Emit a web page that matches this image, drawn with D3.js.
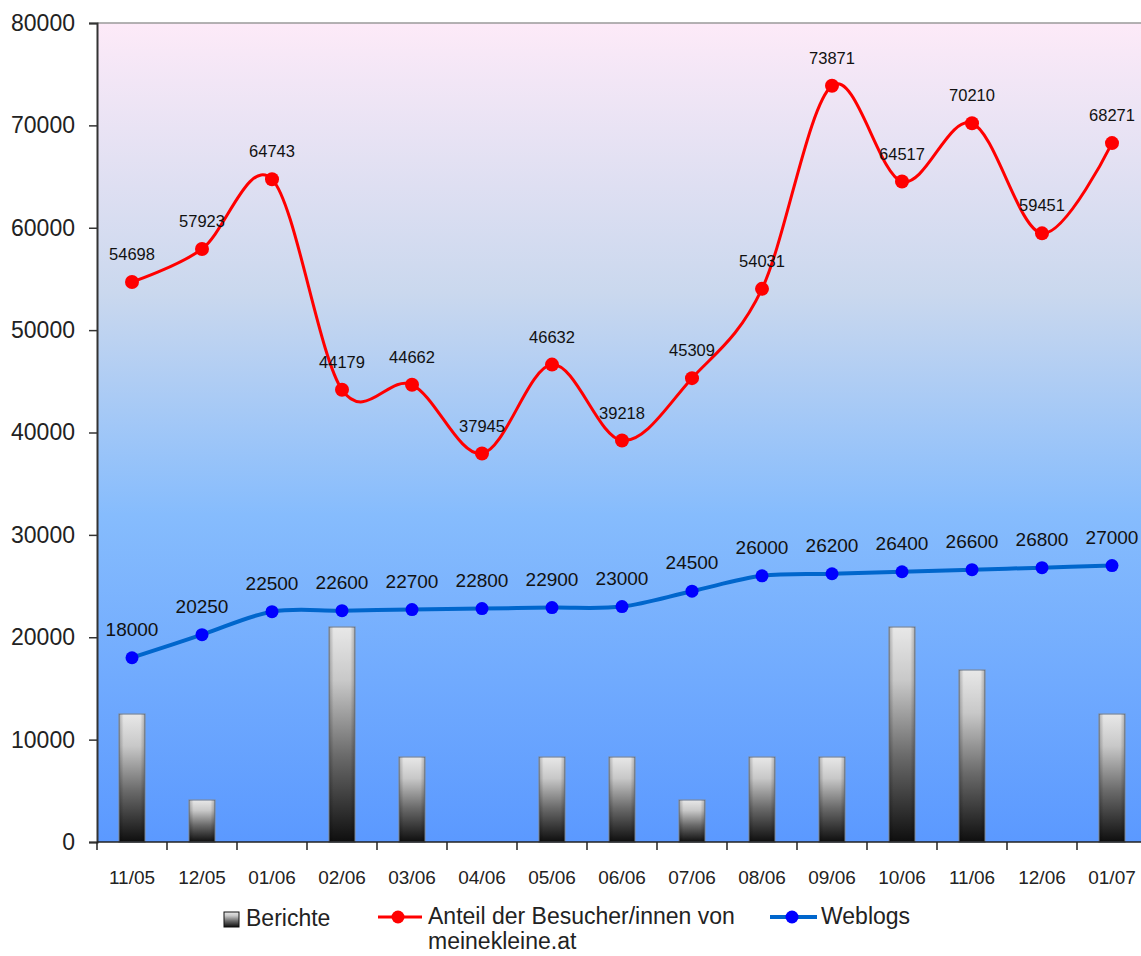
<!DOCTYPE html>
<html>
<head>
<meta charset="utf-8">
<script src="https://cdn.jsdelivr.net/npm/d3@7/dist/d3.min.js"></script>
<style>
  html, body { margin: 0; padding: 0; background: #ffffff; }
  svg { display: block; font-family: "Liberation Sans", Arial, sans-serif; }
</style>
</head>
<body>
<svg id="chart" width="1141" height="956"></svg>
<script>
// ---- data ----
const categories = ["11/05","12/05","01/06","02/06","03/06","04/06","05/06","06/06","07/06","08/06","09/06","10/06","11/06","12/06","01/07"];
const besucher = [54698,57923,64743,44179,44662,37945,46632,39218,45309,54031,73871,64517,70210,59451,68271];
const weblogs = [18000,20250,22500,22600,22700,22800,22900,23000,24500,26000,26200,26400,26600,26800,27000];
const berichte = [12500,4100,0,21000,8300,0,8300,8300,4100,8300,8300,21000,16800,0,12500];
const yTicks = [0,10000,20000,30000,40000,50000,60000,70000,80000];
const seriesNames = ["Berichte", "Anteil der Besucher/innen von", "meinekleine.at", "Weblogs"];

(function () {
// ---- layout ----
const W = 1141, H = 956;
const pL = 97, pR = 1147, pT = 23, pB = 842;

const svg = d3.select("#chart");
const defs = svg.append("defs");

const bg = defs.append("linearGradient").attr("id", "bg").attr("x1", 0).attr("y1", 0).attr("x2", 0).attr("y2", 1);
[[0, "#fdeaf8"], [0.33, "#cad8ee"], [0.6, "#86bcfd"], [1, "#5b99ff"]].forEach(([o, c]) =>
  bg.append("stop").attr("offset", o).attr("stop-color", c));

const barG = defs.append("linearGradient").attr("id", "barg").attr("x1", 0).attr("y1", 0).attr("x2", 0).attr("y2", 1);
[[0, "#e8e8e8"], [0.25, "#c8c8c8"], [0.6, "#6a6a6a"], [1, "#0e0e0e"]].forEach(([o, c]) =>
  barG.append("stop").attr("offset", o).attr("stop-color", c));

const barEdge = defs.append("linearGradient").attr("id", "baredge").attr("x1", 0).attr("y1", 0).attr("x2", 1).attr("y2", 0);
[[0, "rgba(0,0,0,0.25)"], [0.18, "rgba(0,0,0,0)"], [0.82, "rgba(0,0,0,0)"], [1, "rgba(0,0,0,0.25)"]].forEach(([o, c]) =>
  barEdge.append("stop").attr("offset", o).attr("stop-color", c));

const x = d3.scaleBand().domain(categories).range([pL, pR]).padding(0);
const y = d3.scaleLinear().domain([0, 80000]).range([pB, pT]);
const cx = d => x(d) + x.bandwidth() / 2;

// plot background
svg.append("rect").attr("x", pL).attr("y", pT).attr("width", pR - pL).attr("height", pB - pT)
  .attr("fill", "url(#bg)");
svg.append("line").attr("x1", pL).attr("x2", W).attr("y1", pT).attr("y2", pT)
  .attr("stroke", "#9a9a9a").attr("stroke-width", 1.5);

// bars
const barW = 26;
const bars = svg.append("g");
categories.forEach((c, i) => {
  const v = berichte[i];
  if (v <= 0) return;
  const bx = cx(c) - barW / 2, by = y(v), bh = y(0) - y(v);
  bars.append("rect").attr("x", bx).attr("y", by).attr("width", barW).attr("height", bh)
    .attr("fill", "url(#barg)").attr("stroke", "#7d8a9c").attr("stroke-width", 1.2);
  bars.append("rect").attr("x", bx).attr("y", by).attr("width", barW).attr("height", bh)
    .attr("fill", "url(#baredge)");
});

// axes
const yAxis = d3.axisLeft(y).tickValues(yTicks).tickSize(8).tickPadding(14).tickFormat(d3.format("d"));
const gy = svg.append("g").attr("transform", `translate(${pL},0)`).call(yAxis);
gy.select(".domain").attr("stroke", "#333").attr("stroke-width", 2);
gy.selectAll(".tick line").attr("stroke", "#333").attr("stroke-width", 1.5);
gy.selectAll(".tick text").attr("font-size", 23).attr("fill", "#222").attr("font-family", "Liberation Sans, Arial, sans-serif");

const gx = svg.append("g").attr("transform", `translate(0,${pB})`);
gx.append("line").attr("x1", pL).attr("x2", W).attr("y1", 0).attr("y2", 0).attr("stroke", "#222").attr("stroke-width", 1.5);
d3.range(categories.length + 1).forEach(i => {
  const tx = pL + i * x.bandwidth();
  gx.append("line").attr("x1", tx).attr("x2", tx).attr("y1", 0).attr("y2", 8).attr("stroke", "#222").attr("stroke-width", 1.5);
});
categories.forEach(c => {
  gx.append("text").attr("x", cx(c)).attr("y", 42).attr("text-anchor", "middle")
    .attr("font-size", 19).attr("fill", "#222").text(c);
});

// lines
const line = d3.line().x((d, i) => cx(categories[i])).y(d => y(d)).curve(d3.curveCardinal.tension(0));

svg.append("path").datum(weblogs).attr("d", line).attr("fill", "none")
  .attr("stroke", "#0066cc").attr("stroke-width", 4);
svg.append("g").selectAll("circle").data(weblogs).join("circle")
  .attr("cx", (d, i) => cx(categories[i])).attr("cy", d => y(d)).attr("r", 6.5).attr("fill", "#0000ff");

svg.append("path").datum(besucher).attr("d", line).attr("fill", "none")
  .attr("stroke", "#ff0000").attr("stroke-width", 3);
svg.append("g").selectAll("circle").data(besucher).join("circle")
  .attr("cx", (d, i) => cx(categories[i])).attr("cy", d => y(d)).attr("r", 7).attr("fill", "#ff0000");

// data labels
svg.append("g").selectAll("text").data(besucher).join("text")
  .attr("x", (d, i) => cx(categories[i])).attr("y", d => y(d) - 22)
  .attr("text-anchor", "middle").attr("font-size", 16.5).attr("fill", "#111").text(d => d);
svg.append("g").selectAll("text").data(weblogs).join("text")
  .attr("x", (d, i) => cx(categories[i])).attr("y", d => y(d) - 22)
  .attr("text-anchor", "middle").attr("font-size", 19).attr("fill", "#111").text(d => d);

// legend
const lg = svg.append("g").attr("font-size", 23).attr("fill", "#222");
lg.append("rect").attr("x", 224).attr("y", 912).attr("width", 15).attr("height", 15)
  .attr("fill", "url(#barg)").attr("stroke", "#111").attr("stroke-width", 1);
lg.append("text").attr("x", 246).attr("y", 926).text(seriesNames[0]);

lg.append("line").attr("x1", 378).attr("x2", 422).attr("y1", 917).attr("y2", 917).attr("stroke", "#ff0000").attr("stroke-width", 3);
lg.append("circle").attr("cx", 398).attr("cy", 917).attr("r", 6.5).attr("fill", "#ff0000");
const t2 = lg.append("text").attr("x", 428).attr("y", 924);
t2.append("tspan").attr("x", 428).text(seriesNames[1]);
t2.append("tspan").attr("x", 428).attr("dy", 25).text(seriesNames[2]);

lg.append("line").attr("x1", 770).attr("x2", 817).attr("y1", 917).attr("y2", 917).attr("stroke", "#0066cc").attr("stroke-width", 4);
lg.append("circle").attr("cx", 792).attr("cy", 917).attr("r", 6.5).attr("fill", "#0000ff");
lg.append("text").attr("x", 821).attr("y", 924).text(seriesNames[3]);
})();
</script>
</body>
</html>
